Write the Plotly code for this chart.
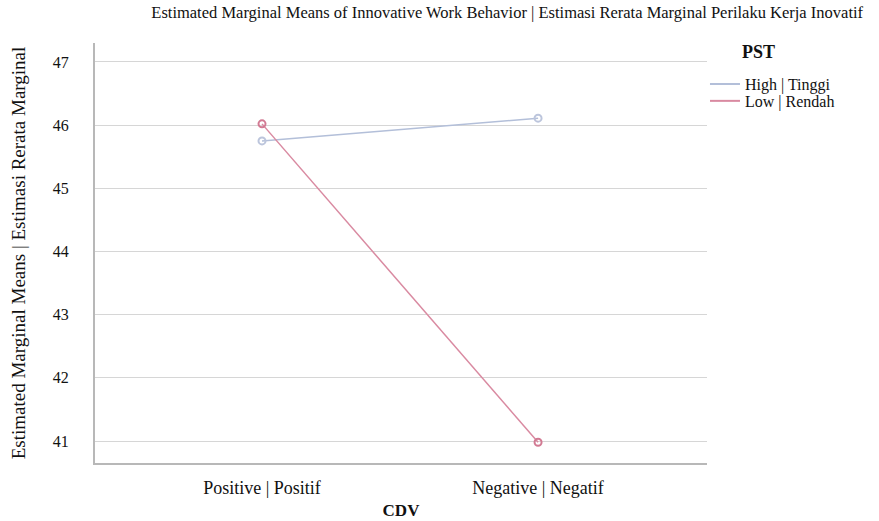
import plotly.graph_objects as go

categories = ["Positive | Positif", "Negative | Negatif"]
high_vals = [45.75, 46.11]
low_vals = [46.02, 40.98]
series_names = ["High | Tinggi", "Low | Rendah"]
legend_title = "PST"
y_ticks = [41, 42, 43, 44, 45, 46, 47]

FONT = "Liberation Serif, Times New Roman, serif"
HIGH_C = "#b3bfd9"
LOW_C = "#d98aa1"

fig = go.Figure()
fig.add_trace(go.Scatter(
    x=[0, 1], y=high_vals, name=series_names[0], mode="lines+markers", showlegend=False,
    line=dict(color=HIGH_C, width=1.5),
    marker=dict(symbol="circle-open", size=7, color="#bcc5dc", line=dict(width=2)),
))
fig.add_trace(go.Scatter(
    x=[0, 1], y=low_vals, name=series_names[1], mode="lines+markers", showlegend=False,
    line=dict(color=LOW_C, width=1.5),
    marker=dict(symbol="circle-open", size=7, color="#d27a93", line=dict(width=2)),
))
# legend-only entries (line samples without markers)
fig.add_trace(go.Scatter(x=[None], y=[None], name=series_names[0], mode="lines",
                         line=dict(color=HIGH_C, width=2), legend="legend"))
fig.add_trace(go.Scatter(x=[None], y=[None], name=series_names[1], mode="lines",
                         line=dict(color=LOW_C, width=2), legend="legend2"))

leg_common = dict(xanchor="left", yanchor="middle", bgcolor="rgba(0,0,0,0)",
                  font=dict(family=FONT, size=16, color="#111"), itemwidth=30)

fig.update_layout(
    width=879, height=521,
    margin=dict(l=95, r=172, t=43, b=58),
    paper_bgcolor="white", plot_bgcolor="white",
    font=dict(family=FONT, size=16, color="#222"),
    title=dict(text="Estimated Marginal Means of Innovative Work Behavior | Estimasi Rerata Marginal Perilaku Kerja Inovatif",
               x=0.577, xanchor="center", y=0.977, yanchor="middle",
               font=dict(family=FONT, size=16.5, color="#111")),
    xaxis=dict(tickmode="array", tickvals=[0, 1], ticktext=categories, range=[-0.605, 1.612],
               showgrid=False, zeroline=False, showline=True, linecolor="#b8b8b8", linewidth=2,
               ticks="", tickfont=dict(family=FONT, size=18, color="#111"), automargin=False,
               ticklabelstandoff=7,
               title=dict(text="<b>CDV</b>", font=dict(family=FONT, size=17, color="#111"), standoff=8)),
    yaxis=dict(tickvals=y_ticks, range=[40.652, 47.30], showgrid=True, gridcolor="#d6d6d6", gridwidth=1,
               zeroline=False, showline=True, linecolor="#b8b8b8", linewidth=2, ticks="",
               ticklabelstandoff=21, tickfont=dict(family=FONT, size=16, color="#111"), automargin=False,
               title=dict(text="Estimated Marginal Means | Estimasi Rerata Marginal",
                          font=dict(family=FONT, size=19, color="#111"), standoff=22)),
    legend=dict(x=0.9967, y=0.902, **leg_common),
    legend2=dict(x=0.9967, y=0.862, **leg_common),
    annotations=[dict(text="<b>" + legend_title + "</b>", xref="paper", yref="paper",
                      x=1.054, y=0.979, xanchor="left", yanchor="middle", showarrow=False,
                      font=dict(family=FONT, size=18, color="#111"))],
    showlegend=True,
)
fig.write_html("out.html", config={"displayModeBar": False},
               post_script="document.body.style.margin='0px';")
